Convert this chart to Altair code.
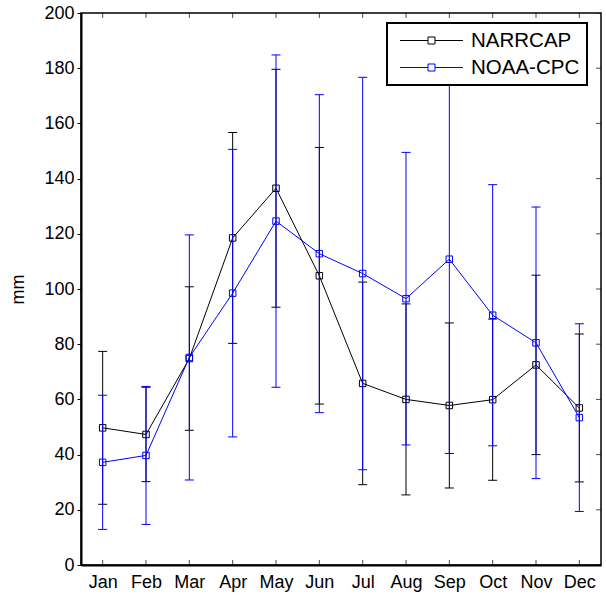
import altair as alt
import pandas as pd

# Monthly precipitation climatology: mean and standard deviation (mm)
months = ["Jan", "Feb", "Mar", "Apr", "May", "Jun",
          "Jul", "Aug", "Sep", "Oct", "Nov", "Dec"]
narrcap_mean = [49.7, 47.3, 74.8, 118.5, 136.5, 104.8, 65.8, 60.0, 57.8, 59.9, 72.5, 56.9]
narrcap_std = [27.7, 17.1, 26.0, 38.2, 43.1, 46.5, 36.7, 34.6, 29.9, 29.2, 32.5, 26.8]
noaa_mean = [37.2, 39.7, 75.2, 98.5, 124.6, 112.8, 105.6, 96.5, 110.8, 90.5, 80.5, 53.4]
noaa_std = [24.3, 25.0, 44.4, 52.1, 60.2, 57.6, 71.1, 53.0, 70.4, 47.3, 49.2, 34.0]

series_names = ["NARRCAP", "NOAA-CPC"]
series_colors = ["#000000", "#0000ff"]
y_ticks = list(range(0, 201, 20))

W, H = 520, 552
FONT = "Liberation Sans"


def frame(name, mean, std):
    return pd.DataFrame({
        "month": months,
        "series": name,
        "mean": mean,
        "lo": [m - s for m, s in zip(mean, std)],
        "hi": [m + s for m, s in zip(mean, std)],
    })


x_enc = alt.X("month:O", sort=months,
              scale=alt.Scale(type="point", padding=0.5, domain=months),
              axis=alt.Axis(title=None, labelAngle=0, ticks=False,
                            labelPadding=8, domainWidth=2,
                            domainColor="black", labelColor="black"))
y_scale = alt.Scale(domain=[0, 200], nice=False, zero=True)
color_scale = alt.Scale(domain=series_names, range=series_colors)

# legend key: a line segment with a hollow square in the middle
legend_path = ("M-3.15,0H-0.35M0.35,0H3.15"
               "M-0.35,-0.35H0.35V0.35H-0.35Z")
legend_def = alt.Legend(title=None, orient="none", legendX=306, legendY=10,
                        symbolFillColor="white")
col = alt.Color("series:N", scale=color_scale, legend=legend_def)


def series_layers(df):
    base = alt.Chart(df)
    bars = base.mark_rule(strokeWidth=1).encode(
        x=x_enc,
        y=alt.Y("lo:Q", scale=y_scale),
        y2="hi:Q",
        color=col,
    )
    cap_lo = base.mark_rule(strokeWidth=1, xOffset=-4.5, x2Offset=4.5).encode(
        x=x_enc, x2="month:O", y=alt.Y("lo:Q", scale=y_scale), color=col)
    cap_hi = base.mark_rule(strokeWidth=1, xOffset=-4.5, x2Offset=4.5).encode(
        x=x_enc, x2="month:O", y=alt.Y("hi:Q", scale=y_scale), color=col)
    line = base.mark_line(strokeWidth=1).encode(
        x=x_enc, y=alt.Y("mean:Q", scale=y_scale), color=col)
    pts = base.mark_point(shape="square", filled=False, size=42,
                          strokeWidth=1, opacity=1).encode(
        x=x_enc, y=alt.Y("mean:Q", scale=y_scale), color=col)
    return [bars, cap_lo, cap_hi, line, pts]


df_a = frame(series_names[0], narrcap_mean, narrcap_std)
df_b = frame(series_names[1], noaa_mean, noaa_std)

# inward tick marks on the bottom, top and right edges of the box
month_df = pd.DataFrame({"month": months})
tick_bottom = alt.Chart(month_df).mark_tick(
    orient="vertical", size=10, thickness=1, color="black", clip=True
).encode(x=x_enc, y=alt.datum(0, scale=y_scale))
tick_top = alt.Chart(month_df).mark_tick(
    orient="vertical", size=10, thickness=1, color="black", clip=True
).encode(x=x_enc, y=alt.datum(200, scale=y_scale))
ytick_df = pd.DataFrame({"v": y_ticks})
tick_right = alt.Chart(ytick_df).mark_tick(
    orient="horizontal", size=10, thickness=1, color="black", clip=True
).encode(
    x=alt.value(W),
    y=alt.Y("v:Q", scale=y_scale,
            axis=alt.Axis(title="mm", values=y_ticks, tickSize=4,
                          tickColor="black", tickWidth=1,
                          labelPadding=3, domainWidth=2,
                          domainColor="black", labelColor="black",
                          titlePadding=16, titleFontWeight="normal",
                          titleFontSize=18, titleColor="black", grid=False)),
)

chart = alt.layer(
    tick_right,
    *series_layers(df_a),
    *series_layers(df_b),
    tick_bottom, tick_top,
).properties(
    width=W, height=H,
    autosize=alt.AutoSizeParams(type="none"),
    padding={"left": 81, "top": 13, "right": 5, "bottom": 34},
).configure_view(
    stroke="black", strokeWidth=1.5
).configure_axis(
    labelFont=FONT, titleFont=FONT, labelFontSize=18, grid=False,
).configure_legend(
    labelFont=FONT, labelFontSize=20.5, labelColor="black",
    symbolType=legend_path, symbolSize=400, symbolStrokeWidth=1,
    symbolOffset=27, labelOffset=29,
    padding=7, rowPadding=6, strokeColor="black", strokeWidth=2,
    fillColor="white",
)

chart.save("out.html", embed_options={"renderer": "svg", "actions": False})
